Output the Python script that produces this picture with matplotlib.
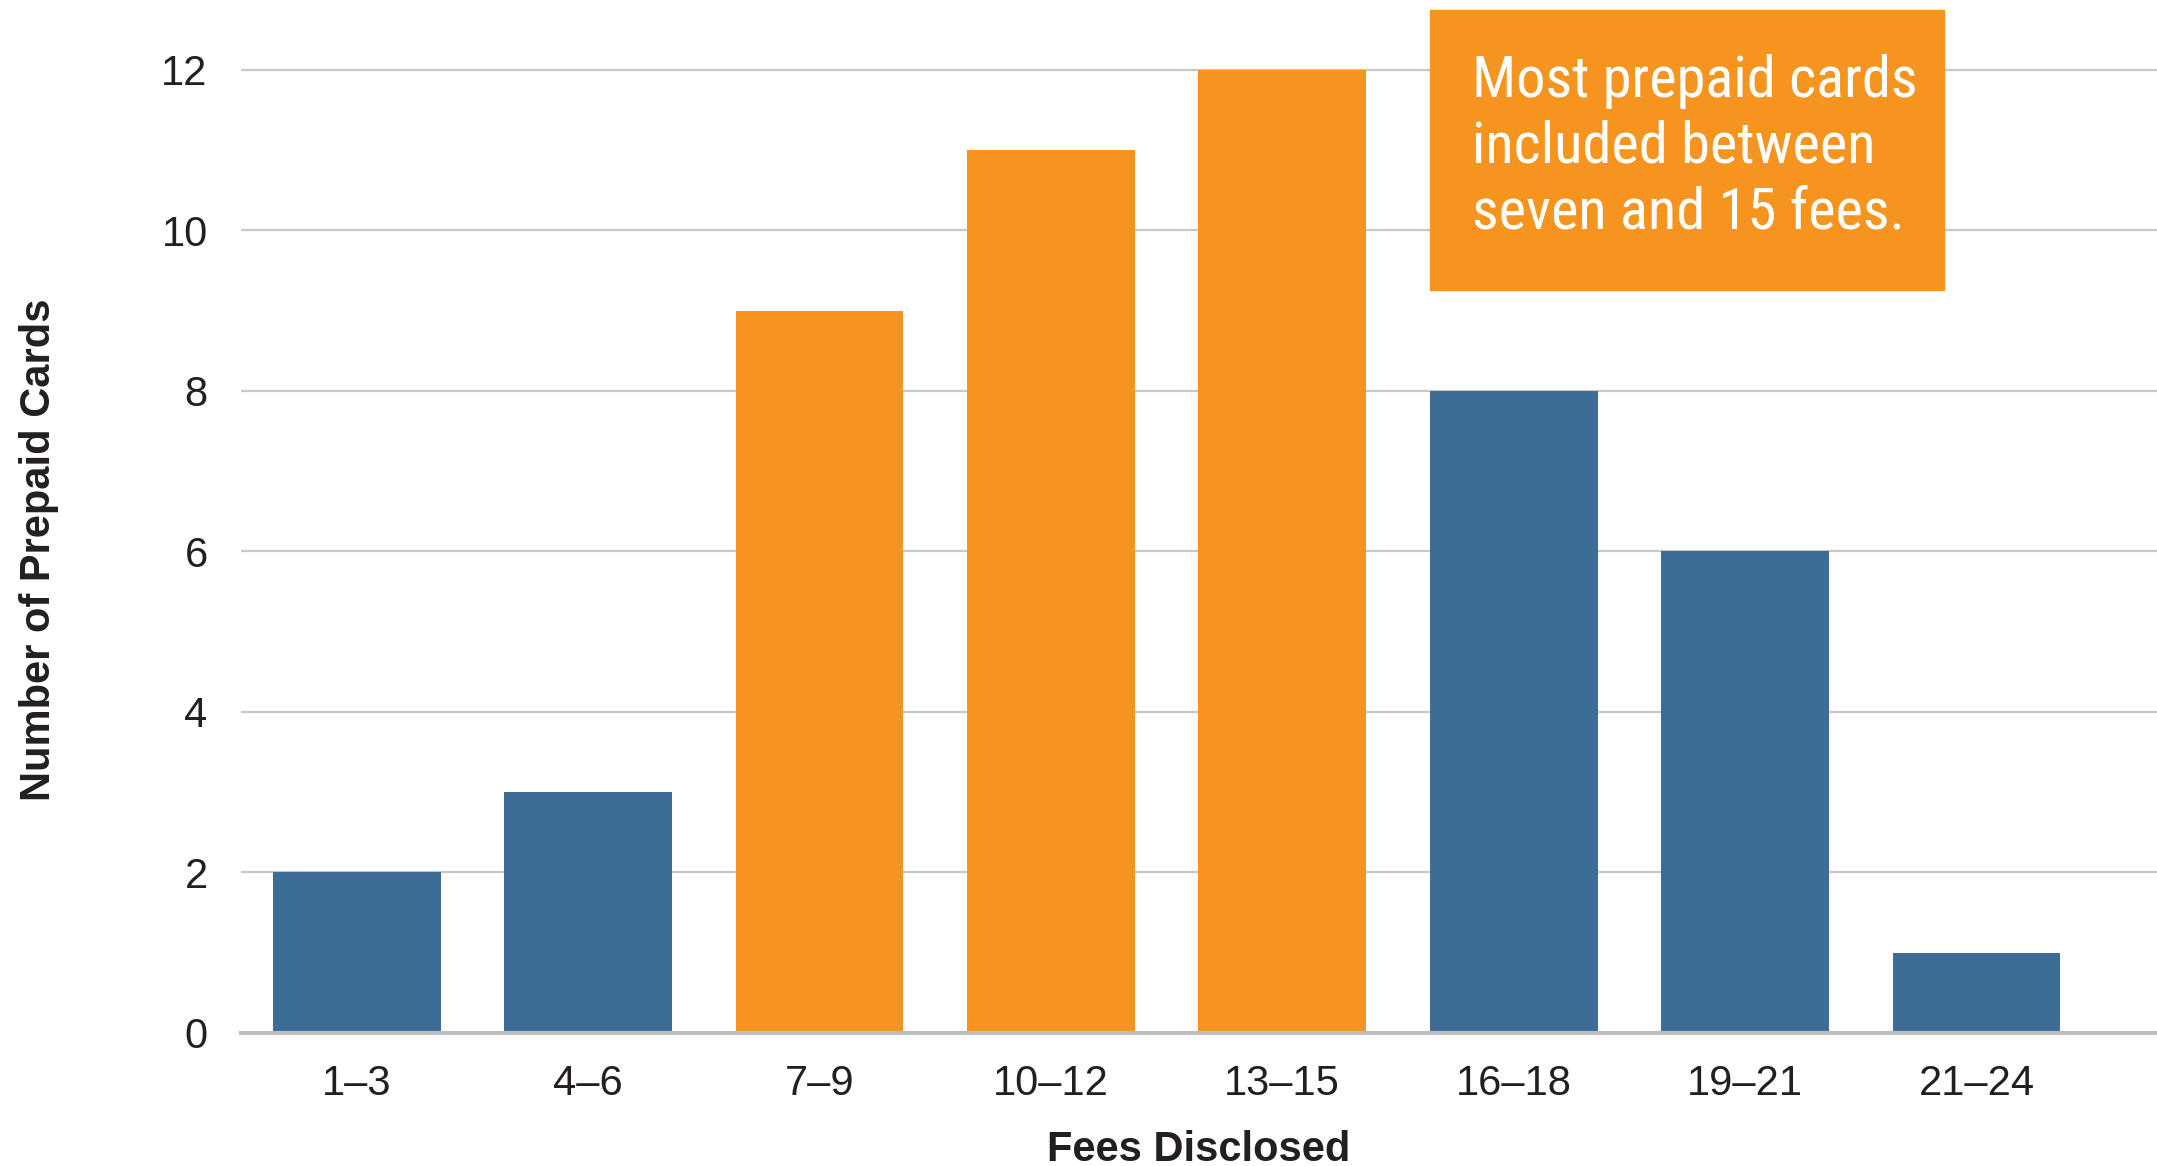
import matplotlib
matplotlib.use("Agg")
import matplotlib.pyplot as plt
from matplotlib.patches import Rectangle

# données
fee_bins = ["1–3", "4–6", "7–9", "10–12", "13–15", "16–18", "19–21", "21–24"]
n_cards = [2, 3, 9, 11, 12, 8, 6, 1]
highlight = [False, False, True, True, True, False, False, False]
y_ticks = [0, 2, 4, 6, 8, 10, 12]
note = "Most prepaid cards\nincluded between\nseven and 15 fees."

BLUE = "#3D6C94"
ORANGE = "#F5951F"
TXT = "#231F20"

plt.rcParams["font.family"] = ["Liberation Sans", "DejaVu Sans"]

fig = plt.figure(figsize=(21.57, 11.66), dpi=100)
ax = fig.add_axes([241 / 2157, 133 / 1166, 1 - 241 / 2157, 1 - 133 / 1166])

x = range(len(fee_bins))
colors = [ORANGE if h else BLUE for h in highlight]
ax.bar(x, n_cards, width=0.725, color=colors, zorder=2)

ax.set_xlim(-0.5, 7.78)
ax.set_ylim(0, 12.87)
ax.set_yticks(y_ticks)
ax.set_xticks(list(x))
ax.set_xticklabels(fee_bins)
ax.tick_params(axis="both", length=0, labelsize=30, colors=TXT)
ax.tick_params(axis="y", pad=24)
ax.tick_params(axis="x", pad=22)

ax.grid(axis="y", color="#C8C8C8", linewidth=1.6, zorder=0)
ax.set_axisbelow(True)
for s in ["top", "right", "left"]:
    ax.spines[s].set_visible(False)
ax.spines["bottom"].set_color("#BDBDBD")
ax.spines["bottom"].set_linewidth(3)
ax.spines["bottom"].set_zorder(3)

ax.set_xlabel("Fees Disclosed", fontsize=30, fontweight="bold", color=TXT, labelpad=19)
ax.set_ylabel("Number of Prepaid Cards", fontsize=30, fontweight="bold", color=TXT)
ax.yaxis.set_label_coords(-0.095, 0.468)

# encadré d'annotation
ax.add_patch(Rectangle((4.64, 9.26), 2.22, 3.48, color=ORANGE, zorder=4,
                       clip_on=False))
ax.text(4.82, 12.20, note, fontsize=42, color="white", va="top", ha="left",
        linespacing=1.25, zorder=5,
        family=["Roboto Condensed", "Archivo Narrow", "Liberation Sans", "DejaVu Sans"])

fig.savefig("out.png", dpi=100)
